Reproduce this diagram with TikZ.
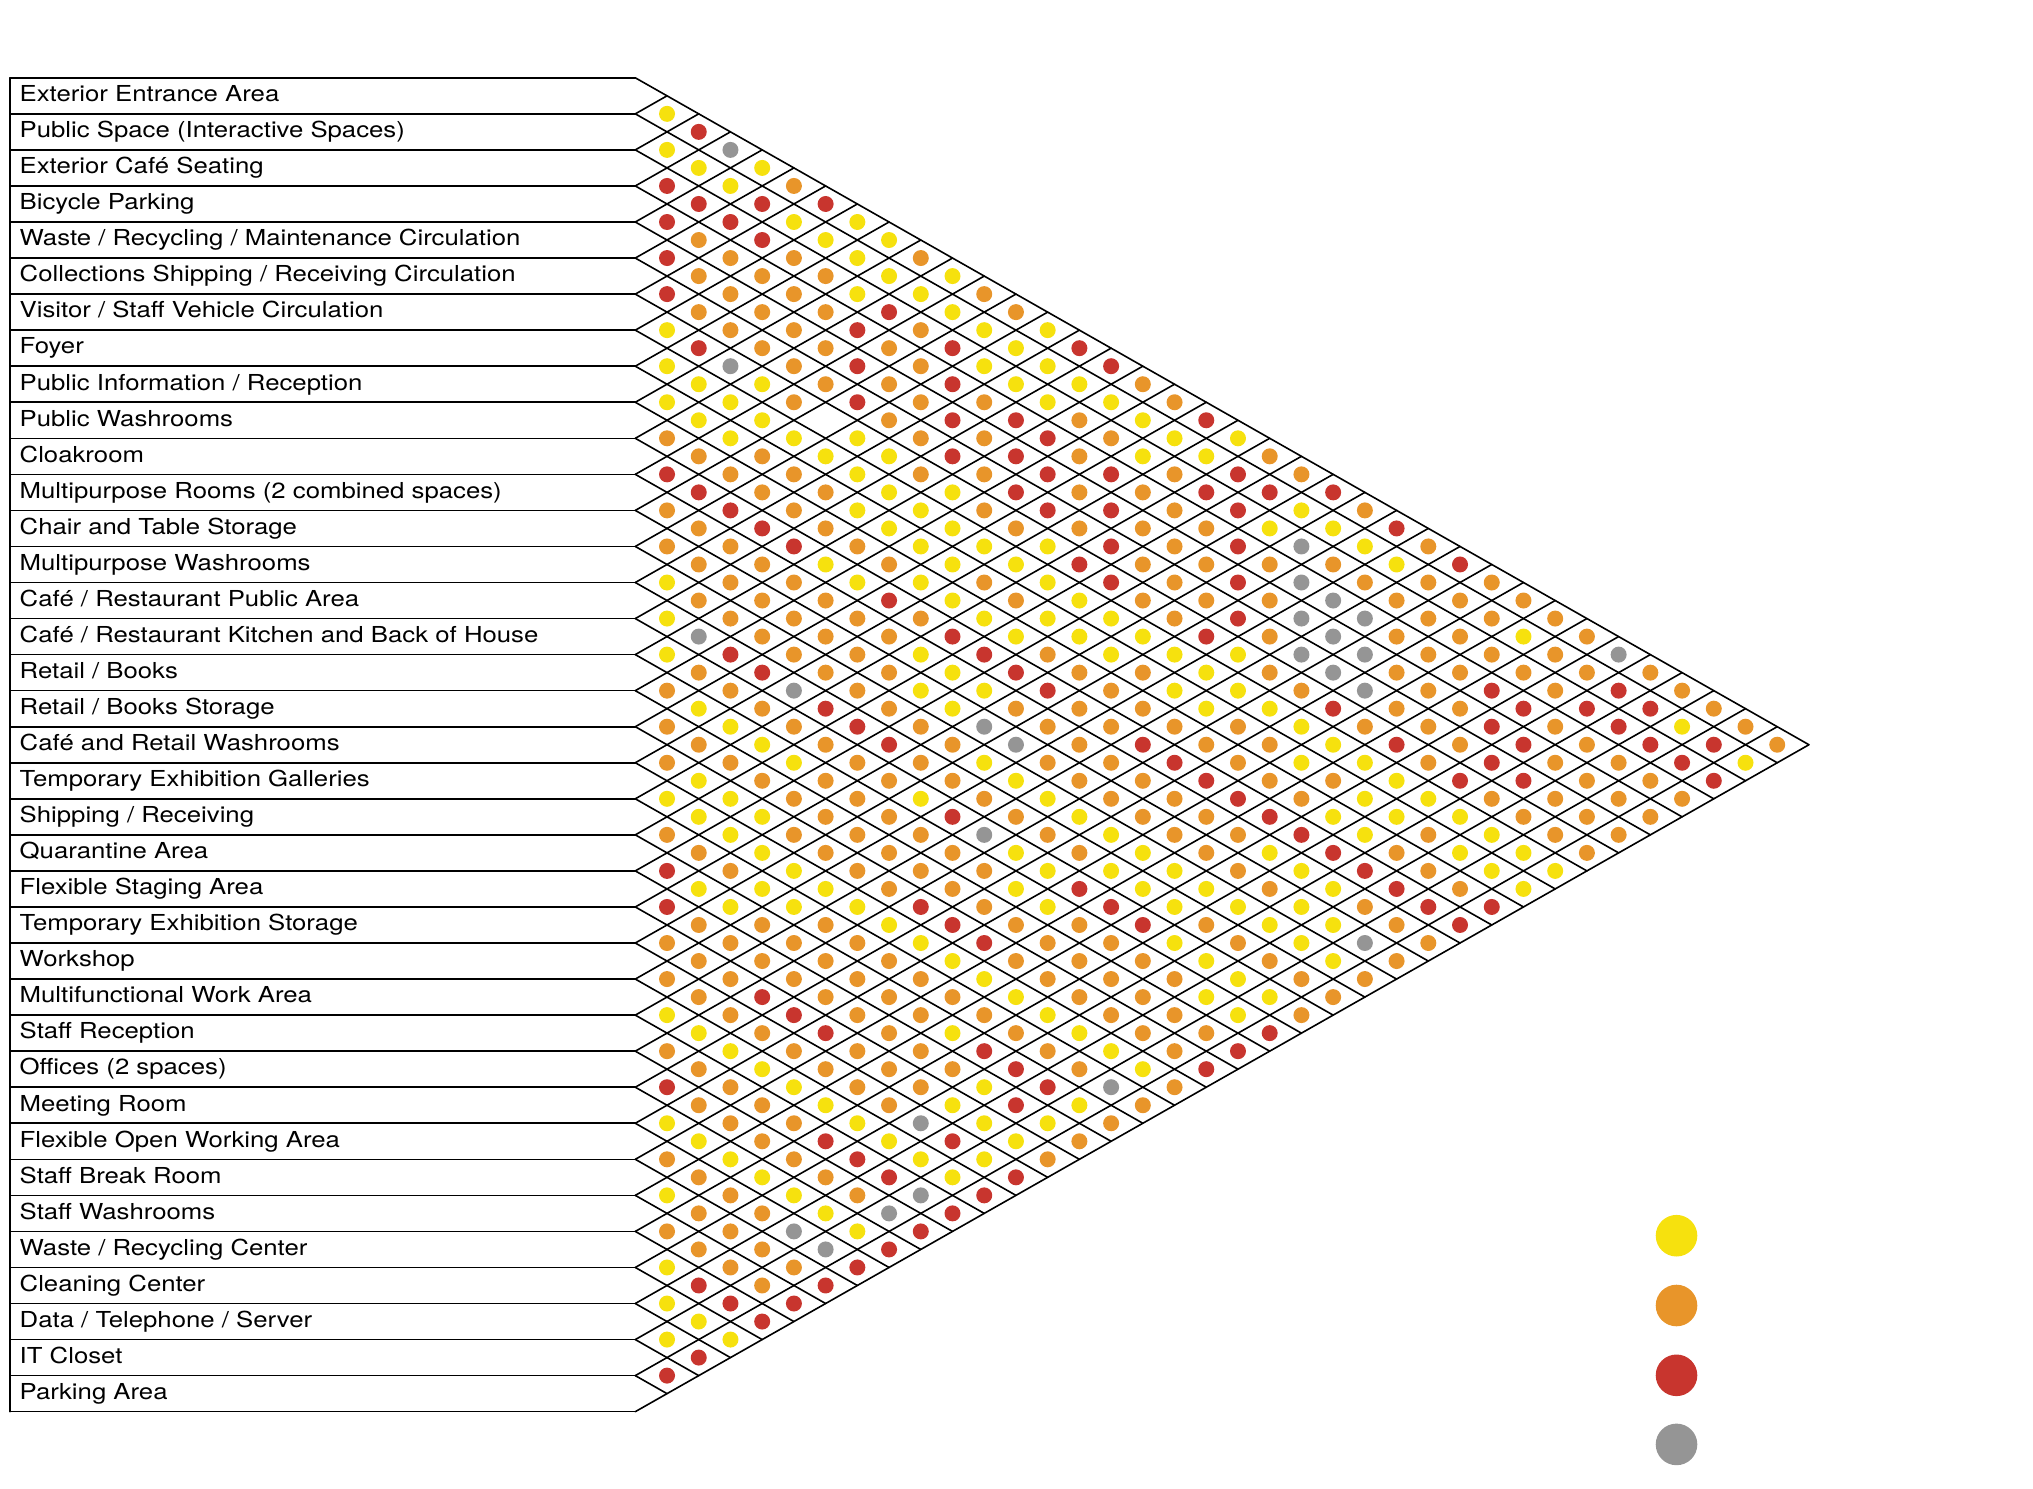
\documentclass[tikz,border=0pt]{standalone}
\usepackage{fontspec}
\setmainfont{TeX Gyre Heros}
\newfontfamily\labfont{TeX Gyre Heros}[FakeStretch=1.17]
\definecolor{cY}{HTML}{F6E10E}
\definecolor{cO}{HTML}{E8952A}
\definecolor{cR}{HTML}{C8352E}
\definecolor{cG}{HTML}{959595}
\begin{document}
\begin{tikzpicture}[x=1pt,y=-1pt,
  gridline/.style={line width=1.6pt, black, line cap=round, line join=round},
  lab/.style={anchor=west, inner sep=0pt, text height=0.72em, text depth=0pt,
    font=\labfont\fontsize{22}{26}\selectfont},
  dotY/.style={fill=cY}, dotO/.style={fill=cO}, dotR/.style={fill=cR},
  dotG/.style={fill=cG}, dotN/.style={},
  legenddot/.style={circle, minimum size=41.6pt, inner sep=0pt}]
\useasboundingbox (0,0) rectangle (2033,1488);
% label boxes
\foreach \k in {0,...,37} {
  \draw[gridline] (10,{77.8+\k*36.05}) -- (635.3,{77.8+\k*36.05});
}
\draw[gridline] (10,77.8) -- (10,1411.65);
% diagonal grid
\foreach \k in {0,...,36} {
  \draw[gridline] (635.3,{77.8+\k*36.05}) -- ++({(37-\k)*31.72},{(37-\k)*18.025});
}
\foreach \k in {1,...,37} {
  \draw[gridline] (635.3,{77.8+\k*36.05}) -- ++({\k*31.72},{-\k*18.025});
}
% labels
\foreach \t [count=\i from 0] in {{Exterior Entrance Area},{Public Space (Interactive Spaces)},{Exterior Café Seating},{Bicycle Parking},{Waste / Recycling / Maintenance Circulation},{Collections Shipping / Receiving Circulation},{Visitor / Staff Vehicle Circulation},{Foyer},{Public Information / Reception},{Public Washrooms},{Cloakroom},{Multipurpose Rooms (2 combined spaces)},{Chair and Table Storage},{Multipurpose Washrooms},{Café / Restaurant Public Area},{Café / Restaurant Kitchen and Back of House},{Retail / Books},{Retail / Books Storage},{Café and Retail Washrooms},{Temporary Exhibition Galleries},{Shipping / Receiving},{Quarantine Area},{Flexible Staging Area},{Temporary Exhibition Storage},{Workshop},{Multifunctional Work Area},{Staff Reception},{Offices (2 spaces)},{Meeting Room},{Flexible Open Working Area},{Staff Break Room},{Staff Washrooms},{Waste / Recycling Center},{Cleaning Center},{Data / Telephone / Server},{IT Closet},{Parking Area}} {
  \node[lab] (l\i) at (19.5,{98.0+36.05*\i}) {\t};
}
% relationship dots
\foreach \row [count=\i from 0] in {
{Y,R,G,Y,O,R,Y,Y,O,Y,O,O,Y,R,R,O,O,R,Y,O,O,R,O,R,O,R,O,O,O,O,G,O,O,O,O,O},
{Y,Y,Y,R,Y,Y,Y,Y,Y,Y,Y,Y,Y,Y,Y,Y,Y,Y,R,R,Y,Y,Y,Y,O,O,O,Y,O,O,R,R,Y,R,Y},
{R,R,R,R,O,O,Y,R,O,R,Y,Y,Y,O,O,Y,O,R,R,Y,G,O,O,O,O,O,O,O,O,R,R,R,R,R},
{R,O,O,O,O,O,R,O,O,R,O,R,R,O,R,O,O,O,R,O,G,G,G,O,O,O,R,R,O,O,O,O,O},
{R,O,O,O,O,O,R,O,O,R,O,R,R,O,R,O,O,O,R,O,G,G,G,O,O,O,R,R,O,O,O,O},
{R,O,O,O,O,O,R,O,O,R,O,R,R,O,R,O,O,O,R,O,G,G,G,O,O,O,R,R,O,O,O},
{Y,R,G,Y,O,N,Y,Y,O,Y,O,O,Y,R,R,O,O,R,Y,O,O,R,O,R,O,R,O,O,O,O},
{Y,Y,Y,Y,Y,Y,Y,Y,Y,Y,Y,Y,Y,Y,Y,Y,Y,Y,Y,Y,Y,Y,Y,Y,Y,Y,Y,Y,Y},
{Y,Y,Y,O,O,O,Y,Y,Y,Y,O,O,Y,Y,Y,O,Y,Y,O,O,Y,O,Y,Y,O,Y,Y,Y},
{O,O,O,O,O,O,O,O,Y,Y,Y,Y,O,O,O,O,O,O,O,O,O,Y,Y,O,O,O,R},
{R,R,R,R,R,Y,Y,R,O,R,R,R,R,O,O,R,R,R,R,R,R,R,R,R,R,R},
{O,O,O,O,O,O,O,O,Y,Y,Y,O,O,O,O,O,O,O,O,Y,Y,Y,O,O,O},
{O,O,O,O,O,O,O,O,Y,Y,G,G,O,O,O,O,O,O,O,O,Y,Y,G,O},
{Y,O,O,O,O,O,O,O,O,O,Y,Y,Y,Y,Y,Y,Y,Y,Y,Y,Y,Y,O},
{Y,G,R,R,G,R,R,R,O,O,O,O,O,O,Y,Y,Y,O,O,O,O,O},
{Y,O,O,O,O,O,O,O,Y,R,G,Y,Y,R,R,R,Y,Y,Y,Y,O},
{O,Y,Y,Y,Y,O,O,O,O,O,O,Y,Y,O,O,O,O,Y,Y,R},
{O,O,O,O,O,O,O,O,O,O,O,O,O,O,O,O,O,O,R},
{O,Y,Y,Y,O,O,O,O,R,R,R,O,O,O,O,O,O,R},
{Y,Y,Y,Y,Y,Y,Y,Y,Y,Y,Y,Y,Y,Y,Y,Y,O},
{O,O,O,Y,Y,O,O,O,O,O,O,O,O,O,G,O},
{R,Y,Y,O,O,O,O,O,O,Y,R,R,R,Y,O},
{R,O,O,O,O,O,O,O,O,O,Y,R,Y,O},
{O,O,O,R,R,R,O,O,O,Y,Y,Y,O},
{O,O,O,O,O,O,O,O,G,R,Y,R},
{Y,Y,Y,Y,Y,Y,Y,Y,Y,Y,R},
{O,O,O,O,O,R,R,R,G,R},
{R,O,O,O,O,O,O,G,R},
{Y,Y,Y,Y,Y,Y,Y,R},
{O,O,O,O,G,G,R},
{Y,O,O,O,O,R},
{O,O,O,O,R},
{Y,R,R,R},
{Y,Y,Y},
{Y,R},
{R}} {
  \foreach \c [count=\n] in \row {
    \path[dot\c] ({635.3+\n*31.72},{77.8+(2*\i+\n+1)*18.025}) circle (8pt);
  }
}
% legend
\node[legenddot, fill=cY] (legY) at (1676.5,1235.7) {};
\node[legenddot, fill=cO] (legO) at (1676.5,1305.5) {};
\node[legenddot, fill=cR] (legR) at (1676.5,1375.3) {};
\node[legenddot, fill=cG] (legG) at (1676.5,1444.4) {};
\end{tikzpicture}
\end{document}
